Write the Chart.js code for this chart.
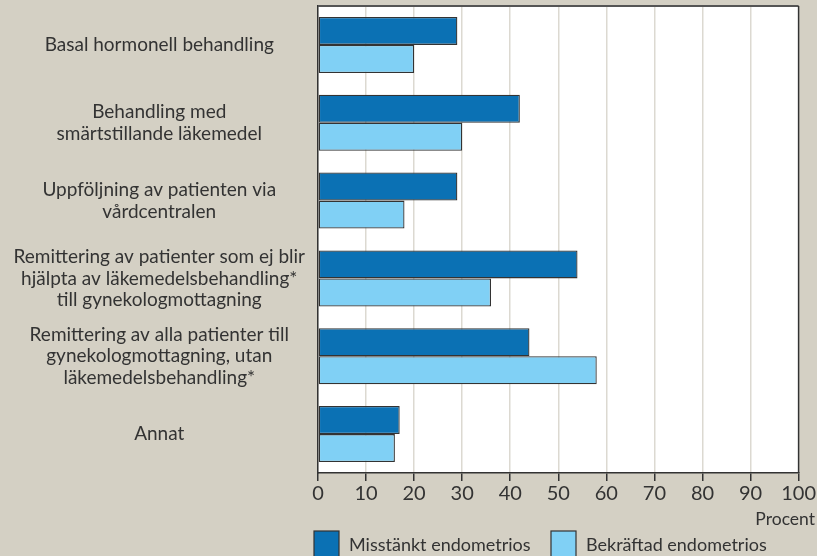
<!DOCTYPE html>
<html>
<head>
<meta charset="utf-8">
<script src="https://cdn.jsdelivr.net/npm/chart.js@4"></script>
<style>
  html, body { margin: 0; padding: 0; background: #d4d0c4; }
  #wrap { width: 817px; height: 556px; }
</style>
</head>
<body>
<div id="wrap"><canvas id="chart" width="817" height="556"></canvas></div>
<script>
// --- Data ---
const categories = [
    ['Basal hormonell behandling'],
    ['Behandling med', 'smärtstillande läkemedel'],
    ['Uppföljning av patienten via', 'vårdcentralen'],
    ['Remittering av patienter som ej blir', 'hjälpta av läkemedelsbehandling*', 'till gynekologmottagning'],
    ['Remittering av alla patienter till', 'gynekologmottagning, utan', 'läkemedelsbehandling*'],
    ['Annat']
];
const misstanktValues = [29, 42, 29, 54, 44, 17];
const bekraftadValues = [20, 30, 18, 36, 58, 16];
const xTicks = [0, 10, 20, 30, 40, 50, 60, 70, 80, 90, 100];

const FONT = 'Lato, "Open Sans", sans-serif';
const TEXT = '#333333';
const BG = '#d4d0c4';

// --- Background, frame, legend and unit label ---
const decorPlugin = {
    id: 'decor',
    beforeDraw(chart) {
        const { ctx, chartArea: a } = chart;
        ctx.save();
        ctx.fillStyle = BG;
        ctx.fillRect(0, 0, chart.width, chart.height);
        ctx.fillStyle = '#ffffff';
        ctx.fillRect(a.left, a.top, a.right - a.left, a.bottom - a.top);
        ctx.restore();
    },
    afterDraw(chart) {
        const { ctx, chartArea: a } = chart;
        ctx.save();
        // frame top and right
        ctx.strokeStyle = '#555555';
        ctx.lineWidth = 2;
        ctx.beginPath();
        ctx.moveTo(a.left, a.top);
        ctx.lineTo(a.right, a.top);
        ctx.stroke();
        ctx.strokeStyle = '#333333';
        ctx.lineWidth = 1.5;
        ctx.beginPath();
        ctx.moveTo(a.right, a.top);
        ctx.lineTo(a.right, a.bottom);
        ctx.stroke();

        // unit label
        ctx.fillStyle = TEXT;
        ctx.font = '17.5px ' + FONT;
        ctx.textAlign = 'right';
        ctx.textBaseline = 'middle';
        ctx.fillText('Procent', 815, 519);

        // legend
        const items = chart.data.datasets;
        const xs = [314, 551];
        ctx.font = '18px ' + FONT;
        ctx.textAlign = 'left';
        items.forEach((ds, i) => {
            ctx.fillStyle = ds.backgroundColor;
            ctx.fillRect(xs[i], 531, 25, 26);
            ctx.strokeStyle = '#333333';
            ctx.lineWidth = 1.2;
            ctx.strokeRect(xs[i], 531, 25, 26);
            ctx.fillStyle = TEXT;
            ctx.fillText(ds.label, xs[i] + 35, 545);
        });
        ctx.restore();
    }
};

new Chart(document.getElementById('chart'), {
    type: 'bar',
    data: {
        labels: categories,
        datasets: [
            {
                label: 'Misstänkt endometrios',
                data: misstanktValues,
                backgroundColor: '#0b71b4',
                borderColor: '#333333',
                borderWidth: 1.3,
                borderSkipped: false
            },
            {
                label: 'Bekräftad endometrios',
                data: bekraftadValues,
                backgroundColor: '#80d0f5',
                borderColor: '#333333',
                borderWidth: 1.3,
                borderSkipped: false
            }
        ]
    },
    options: {
        indexAxis: 'y',
        responsive: false,
        animation: false,
        devicePixelRatio: 1,
        layout: { padding: { top: 6, right: 18, left: 0, bottom: 0 } },
        datasets: { bar: { barPercentage: 1, categoryPercentage: 0.72 } },
        plugins: {
            legend: { display: false },
            tooltip: { enabled: false }
        },
        scales: {
            x: {
                min: 0,
                max: 100,
                afterBuildTicks: (scale) => { scale.ticks = xTicks.map(v => ({ value: v })); },
                afterFit: (scale) => { scale.height = 83; },
                grid: { color: '#dcd9d1', lineWidth: 1.5, tickColor: '#333333', tickLength: 8, drawTicks: true },
                border: { color: '#333333', width: 1.5 },
                ticks: { color: TEXT, font: { family: FONT, size: 20 }, padding: 1, maxRotation: 0 }
            },
            y: {
                afterFit: (scale) => {
                    scale.width = 318;
                    scale.paddingTop = 0;
                    scale.paddingBottom = 0;
                },
                grid: { display: false, drawTicks: false },
                border: { display: true, color: '#333333', width: 1.5 },
                ticks: {
                    color: TEXT,
                    crossAlign: 'center',
                    padding: 13,
                    font: { family: FONT, size: 19, lineHeight: 1.15 }
                }
            }
        }
    },
    plugins: [decorPlugin]
});
</script>
</body>
</html>
